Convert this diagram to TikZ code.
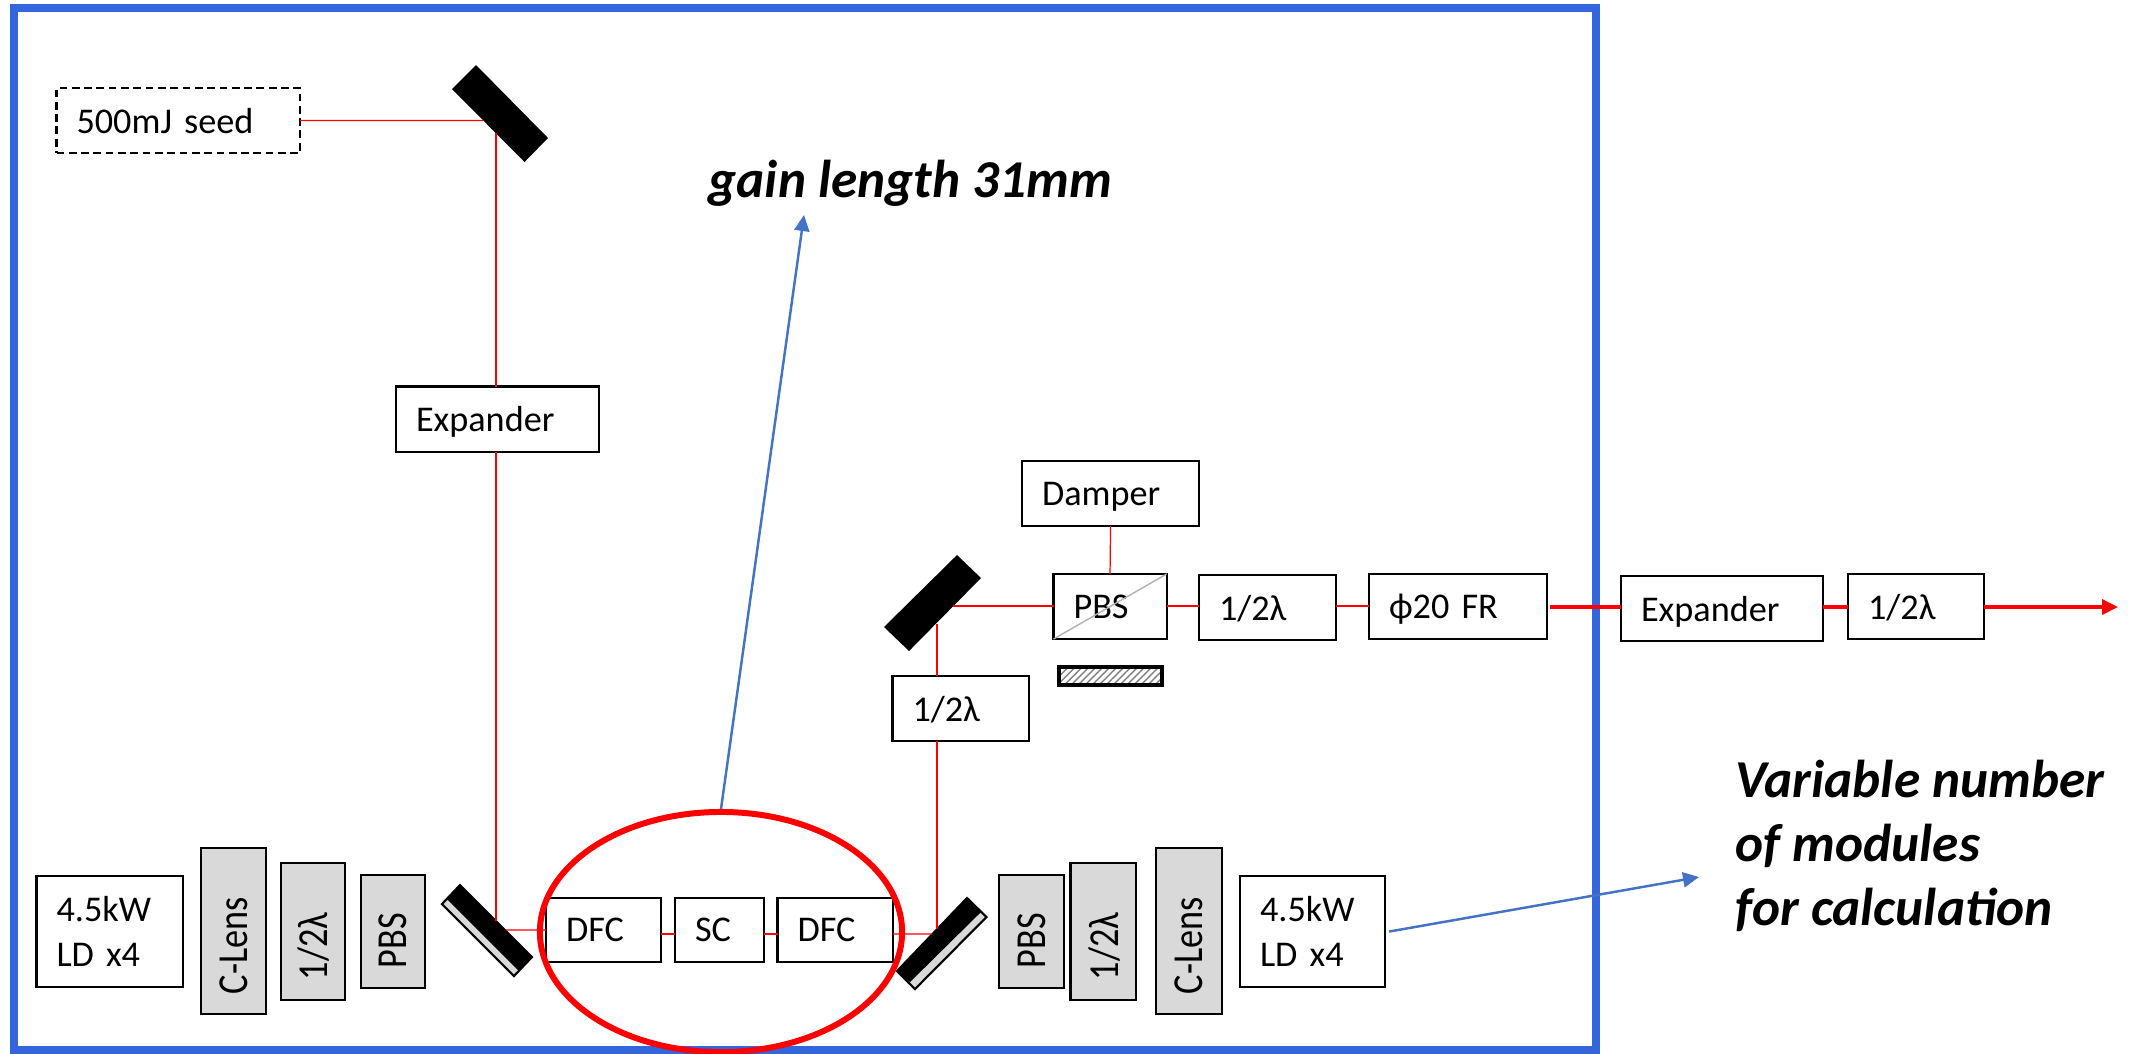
\documentclass[tikz,border=0pt]{standalone}
\usepackage{fontspec}
\setmainfont{Carlito}
\usetikzlibrary{shapes.geometric,patterns.meta,arrows.meta}
\definecolor{framecol}{HTML}{3366DD}
\definecolor{notecol}{HTML}{4472C4}
\definecolor{partcol}{HTML}{D9D9D9}
\newcommand{\lenslabel}[1]{\scalebox{1}[1.18]{#1}}
\tikzset{
partfont/.style={font=\fontsize{10.3}{12.8}\selectfont},
box/.style 2 args={draw,fill=white,line width=.6pt,outer sep=0pt,anchor=north west,partfont,
  inner xsep=.2cm,inner ysep=0pt,align=left,text width=#1cm-.4cm,minimum height=#2cm,text depth=0pt},
lens/.style 2 args={box={#1}{#2},fill=partcol,rotate=90},
beam/.style={red,line width=.35pt},
mainbeam/.style={red,line width=1pt},
note/.style={notecol,line width=.7pt,-{Triangle[length=.16cm,width=.15cm]}},
notetext/.style={anchor=west,font=\fontsize{15.15}{18.3}\selectfont\bfseries\itshape,align=left,inner sep=0pt},
}
\begin{document}
\begin{tikzpicture}[>={Triangle[length=.16cm,width=.15cm]}, x=.01cm, y=-.01cm]
\useasboundingbox (0,0) rectangle (2134,1053);
\draw[framecol,line width=2.3pt] (14,8) rectangle (1596,1050);

\node[box={2.435}{.65},dash pattern=on 2.2pt off 1.3pt] (seed) at (56.5,88) {500mJ seed};
\node[box={2.03}{.655}] (expA) at (396,386.5) {Expander};
\node[box={1.46}{1.11},text depth=] (ldA) at (36.5,876) {4.5kW\\LD x4};
\node[lens={1.66}{.65}] (clensA) at (201,1014) {\lenslabel{C-Lens}};
\node[lens={1.37}{.64}] (waveA) at (281,1000) {\lenslabel{1/2λ}};
\node[lens={1.13}{.64}] (pbsA) at (361,988) {\lenslabel{PBS}};
\node[box={1.15}{.64}] (dfcA) at (546,898) {DFC};
\node[box={.885}{.64}] (sc) at (675,898) {SC};
\node[box={1.155}{.64}] (dfcB) at (777.5,898) {DFC};
\node[lens={1.13}{.65}] (pbsB) at (999,988) {\lenslabel{PBS}};
\node[lens={1.37}{.655}] (waveB) at (1070.5,1000) {\lenslabel{1/2λ}};
\node[lens={1.66}{.66}] (clensB) at (1156,1014) {\lenslabel{C-Lens}};
\node[box={1.45}{1.11},text depth=] (ldB) at (1240,876) {4.5kW\\LD x4};
\node[box={1.365}{.65}] (waveC) at (892.5,676) {1/2λ};
\node[box={1.77}{.65}] (damper) at (1022,461) {Damper};
\node[box={1.13}{.65}] (pbsC) at (1053.5,574) {PBS};
\node[box={1.37}{.65}] (waveD) at (1199,575) {1/2λ};
\node[box={1.78}{.65}] (fr) at (1369,574) {ϕ20 FR};
\node[box={2.02}{.65}] (expB) at (1621,576) {Expander};
\node[box={1.36}{.65}] (waveE) at (1848,574) {1/2λ};
\draw[gray!60,line width=.4pt] (pbsC.south west)--(pbsC.north east);
\node[draw,line width=1pt,pattern={Lines[angle=45,distance=1.4pt,line width=.4pt]},pattern color=gray,minimum width=1.03cm,minimum height=.18cm,inner sep=0pt,outer sep=0pt,anchor=north west] (stop) at (1059,667) {};

\fill (476,65)--(548,138)--(524.5,162)--(452,89)--cycle;
\fill (957,555)--(981,578)--(909,651)--(884,627)--cycle;
\draw[fill=partcol,line width=.6pt] (460,885)--(532,957)--(514,976)--(442,904)--cycle;
\fill (460,885)--(532,957)--(519,971)--(447,899)--cycle;
\draw[fill=partcol,line width=.6pt] (967,898)--(986.5,917)--(915,989)--(897,971)--cycle;
\fill (967,898)--(981,912)--(910,982)--(897,971)--cycle;

\coordinate (mirrorAin) at (483,120.5);
\coordinate (mirrorAout) at (496,133);
\coordinate (mirrorBin) at (496,921);
\coordinate (mirrorBout) at (506,930);
\coordinate (mirrorCin) at (932,934);
\coordinate (mirrorCout) at (937,929);
\coordinate (mirrorDin) at (937,624);
\coordinate (mirrorDout) at (953,606);
\coordinate (outEnd) at (2118,607);

\draw[beam] (seed.east)--(mirrorAin);
\draw[beam] (mirrorAout)--(mirrorAout|-expA.north);
\draw[beam] (mirrorAout|-expA.south)--(mirrorBin);
\draw[beam] (mirrorBout)--(dfcA.west);
\draw[beam] ([yshift=-.04cm]dfcA.east)--([yshift=-.04cm]sc.west);
\draw[beam] ([yshift=-.04cm]sc.east)--([yshift=-.04cm]dfcB.west);
\draw[beam] ([yshift=-.04cm]dfcB.east)--(mirrorCin);
\draw[beam] (mirrorCout)--(mirrorCout|-waveC.south);
\draw[beam] (mirrorDin|-waveC.north)--(mirrorDin);
\draw[beam] (mirrorDout)--(mirrorDout-|pbsC.west);
\draw[beam] (pbsC.north)--(damper.south);
\draw[beam] (mirrorDout-|pbsC.east)--(mirrorDout-|waveD.west);
\draw[beam] (mirrorDout-|waveD.east)--(mirrorDout-|fr.west);
\draw[mainbeam] ([xshift=.03cm]outEnd-|fr.east)--(outEnd-|expB.west);
\draw[mainbeam] (outEnd-|expB.east)--(outEnd-|waveE.west);
\draw[mainbeam,->] (outEnd-|waveE.east)--(outEnd);

\node[ellipse,draw=red,line width=1.7pt,minimum width=3.62cm,minimum height=2.4cm,inner sep=0pt] (calcZone) at (721,932) {};
\node[notetext] (gainText) at (708,183) {gain length 31mm};
\node[notetext] (varText) at (1735,846) {Variable number\\of modules\\for calculation};
\coordinate (gainEnd) at (804,215);
\coordinate (varEnd) at (1699,877);
\draw[note] (calcZone.north)--(gainEnd);
\draw[note] ([xshift=.04cm]ldB.east)--(varEnd);
\end{tikzpicture}
\end{document}
